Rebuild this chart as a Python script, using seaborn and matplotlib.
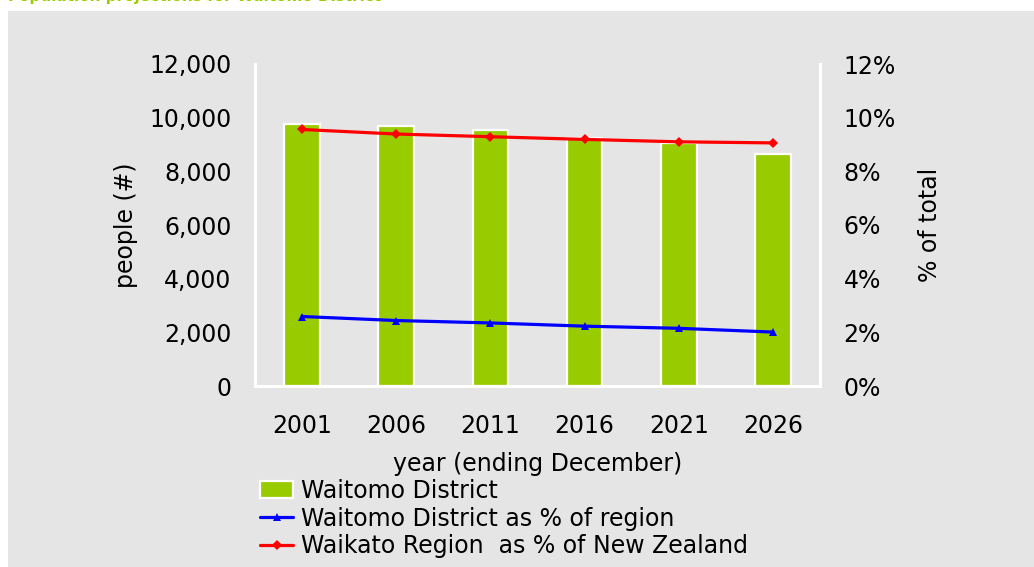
import numpy as np
import matplotlib
matplotlib.use("Agg")
import matplotlib.pyplot as plt
from matplotlib.patches import Rectangle
from matplotlib.ticker import FuncFormatter, MultipleLocator
import seaborn as sns

# data
years = ["2001", "2006", "2011", "2016", "2021", "2026"]
district_pop = [9760, 9680, 9540, 9260, 9070, 8640]
district_pct_region = [2.59, 2.44, 2.35, 2.23, 2.15, 2.01]
region_pct_nz = [9.56, 9.39, 9.29, 9.19, 9.10, 9.06]

bar_label = "Waitomo District"
blue_label = "Waitomo District as % of region"
red_label = "Waikato Region  as % of New Zealand"

GREEN = "#99CC00"
GRAY = "#E5E5E5"

sns.set_style("white")
plt.rcParams["font.family"] = ["DejaVu Sans"]
plt.rcParams["text.color"] = "black"
plt.rcParams["axes.labelcolor"] = "black"
FS = 17

fig = plt.figure(figsize=(10.34, 5.67), dpi=100)
fig.patch.set_facecolor("white")
fig.add_artist(Rectangle((8 / 1034, 0), 1, 1 - 11 / 567, transform=fig.transFigure,
                         facecolor=GRAY, edgecolor="none", zorder=-10))

# cut-off title at the very top
fig.text(8 / 1034, 1 - 1 / 567, "Population projections for Waitomo District",
         color=GREEN, fontsize=11, fontweight="bold", ha="left", va="baseline")

ax = fig.add_axes([255 / 1034, 1 - 386 / 567, (820 - 255) / 1034, (386 - 64) / 567])
ax.set_facecolor("none")

sns.barplot(x=years, y=district_pop, ax=ax, color=GREEN, width=0.38,
            edgecolor="white", linewidth=1.6, saturation=1, label=bar_label)
ax.set_ylim(0, 12000)
ax.yaxis.set_major_locator(MultipleLocator(2000))
ax.yaxis.set_major_formatter(FuncFormatter(lambda v, p: f"{int(v):,}"))
ax.set_xlim(-0.5, len(years) - 0.5)

ax2 = ax.twinx()
ax2.set_facecolor("none")
pos = np.arange(len(years))
sns.lineplot(x=pos, y=district_pct_region, ax=ax2, color="#0000FF", lw=2.3,
             marker="^", markersize=6, markeredgewidth=0, label=blue_label)
sns.lineplot(x=pos, y=region_pct_nz, ax=ax2, color="#FF0000", lw=2.3,
             marker="D", markersize=5, markeredgewidth=0, label=red_label)
ax2.set_ylim(0, 12)
ax2.yaxis.set_major_locator(MultipleLocator(2))
ax2.yaxis.set_major_formatter(FuncFormatter(lambda v, p: f"{int(v)}%"))
ax2.set_xlim(-0.5, len(years) - 0.5)

for a in (ax, ax2):
    for s in a.spines.values():
        s.set_visible(False)
    a.tick_params(length=0, labelsize=FS, colors="black")
ax.spines["left"].set_visible(True)
ax.spines["bottom"].set_visible(True)
ax2.spines["right"].set_visible(True)
for s in (ax.spines["left"], ax.spines["bottom"], ax2.spines["right"]):
    s.set_color("white")
    s.set_linewidth(2.2)

ax.tick_params(axis="y", pad=17)
ax.tick_params(axis="x", pad=20)
ax2.tick_params(axis="y", pad=17)

ax.set_xlabel("year (ending December)", fontsize=FS, labelpad=10)
ax.set_ylabel("people (#)", fontsize=FS, labelpad=8)
ax2.set_ylabel("% of total", fontsize=FS, labelpad=16)

h1, l1 = ax.get_legend_handles_labels()
h2, l2 = ax2.get_legend_handles_labels()
ax2.get_legend().remove()
if ax.get_legend():
    ax.get_legend().remove()
fig.legend(h1 + h2, l1 + l2, loc="upper left", bbox_to_anchor=(260 / 1034, 1 - 479 / 567),
           frameon=False, fontsize=FS, borderpad=0, labelspacing=0.15,
           handlelength=1.4, handletextpad=0.35, borderaxespad=0)

fig.savefig("out.png", dpi=100)
